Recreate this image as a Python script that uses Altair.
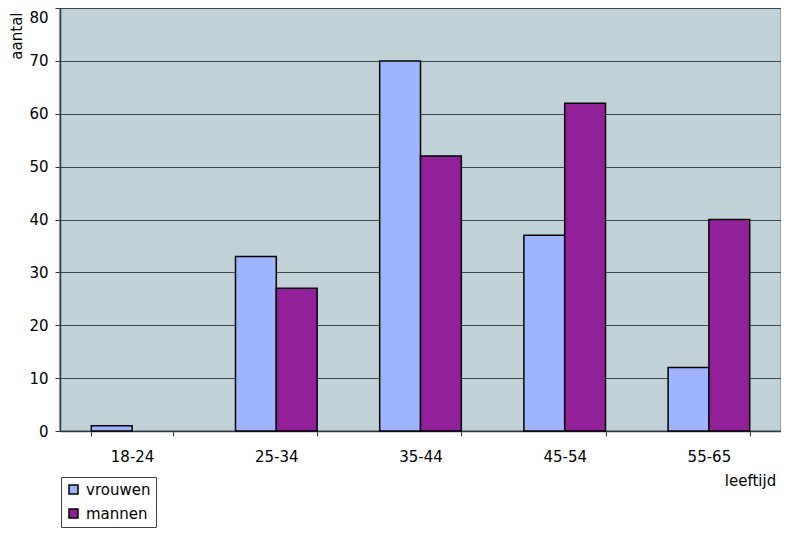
import altair as alt
import pandas as pd

categories = ["18-24", "25-34", "35-44", "45-54", "55-65"]
vrouwen = [1, 33, 70, 37, 12]
mannen = [0, 27, 52, 62, 40]
series = ["vrouwen", "mannen"]
colors = ["#9FB4FF", "#922199"]

rows = []
for i, c in enumerate(categories):
    rows.append({"leeftijd": c, "geslacht": "vrouwen", "aantal": vrouwen[i]})
    rows.append({"leeftijd": c, "geslacht": "mannen", "aantal": mannen[i]})
df = pd.DataFrame(rows)

FONT = "DejaVu Sans"

chart = alt.Chart(df).transform_filter(
    "datum.aantal > 0"
).mark_bar(stroke="black", strokeWidth=1.5).encode(
    x=alt.X("leeftijd:N", sort=categories,
            scale=alt.Scale(domain=categories, paddingInner=0.434, paddingOuter=0.217),
            axis=alt.Axis(title="leeftijd", labelAngle=0, tickBand="extent",
                          grid=False, tickSize=5, labelPadding=13,
                          titleX=690, titleY=54, titleAlign="center",
                          titleBaseline="alphabetic", titleFontWeight="normal")),
    xOffset=alt.XOffset("geslacht:N", sort=series,
                        scale=alt.Scale(domain=series, paddingInner=0, paddingOuter=0)),
    y=alt.Y("aantal:Q", scale=alt.Scale(domain=[0, 80]),
            axis=alt.Axis(title="aantal", values=list(range(0, 81, 10)),
                          tickSize=5, labelPadding=7, grid=True,
                          labelOffset={"condition": {"test": "datum.value == 80", "value": 9}, "value": 0},
                          titleAngle=-90, titleAlign="right",
                          titleBaseline="alphabetic", titleX=-39, titleY=4,
                          titleFontWeight="normal")),
    color=alt.Color("geslacht:N", sort=series,
                    scale=alt.Scale(domain=series, range=colors),
                    legend=alt.Legend(title=None, orient="none",
                                      legendX=1, legendY=469,
                                      symbolType="square", symbolSize=81,
                                      symbolStrokeColor="black",
                                      symbolStrokeWidth=1.5,
                                      symbolOpacity=1,
                                      labelFontSize=15, labelFont=FONT,
                                      labelOffset=5, rowPadding=8,
                                      padding=5, fillColor="white",
                                      strokeColor="#404040")),
).properties(
    width=721, height=423,
    autosize=alt.AutoSizeParams(type="none"),
    padding={"left": 52, "top": 0, "right": 0, "bottom": 97},
).configure_view(
    fill="#C1D1D8", stroke="#8898A0", strokeWidth=1.5
).configure_axis(
    labelFont=FONT, titleFont=FONT, labelFontSize=15, titleFontSize=15,
    labelColor="black", titleColor="black",
    domainColor="#303840", domainWidth=1.5, tickColor="#303840",
    gridColor="#3A4650", gridWidth=1, gridOpacity=1,
)

chart.save("out.html", embed_options={"renderer": "svg", "actions": False})
